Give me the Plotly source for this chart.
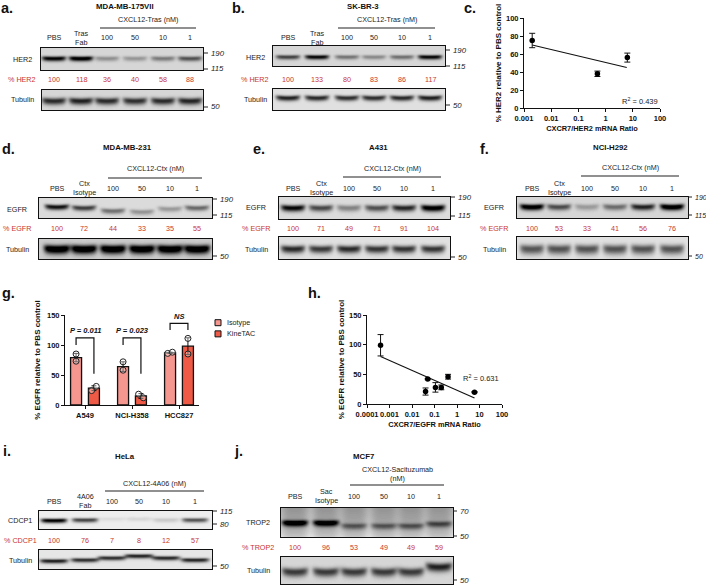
import numpy as np
import plotly.graph_objects as go

W, H = 706, 586
FONT = "Liberation Sans"
RED = "#C9352C"
INK = "#111111"

# ---------- data ----------
CONC = ["100", "50", "10", "1"]
pct_a = [100, 118, 36, 40, 58, 88]
pct_b = [100, 133, 80, 83, 86, 117]
pct_d = [100, 72, 44, 33, 35, 55]
pct_e = [100, 71, 49, 71, 91, 104]
pct_f = [100, 53, 33, 41, 56, 76]
pct_i = [100, 76, 7, 8, 12, 57]
pct_j = [100, 96, 53, 49, 49, 59]

band_a = [.85, .92, .28, .25, .36, .52]
band_b = [.58, .82, .38, .30, .40, .82]
band_d = [.80, .62, .42, .28, .26, .45]
band_e = [.85, .58, .35, .55, .72, .95]
band_f = [.95, .55, .24, .42, .72, .98]
band_i = [.95, .66, .06, .08, .14, .60]
band_j = [.88, .85, .36, .36, .38, .42]
tub_a = [.68, .72, .68, .66, .68, .70]
tub_b = [.75, .72, .70, .70, .72, .76]
tub_d = [1.0, 1.0, 1.0, 1.0, 1.0, 1.0]
tub_e = [.72, .66, .72, .68, .68, .68]
tub_f = [.55, .56, .56, .56, .56, .56]
tub_i = [.78, .72, .72, .76, .74, .76]
tub_j = [.62, .62, .62, .62, .62, .72]

c_x = [0.002, 0.5, 6.3]
c_y = [75, 38, 56]
c_err = [8, 3, 5]
c_fit_x = [0.002, 6]
c_fit_y = [70, 45]

g_cells = ["A549", "NCI-H358", "HCC827"]
g_iso = [79, 64, 87]
g_kine = [28, 15, 98]
g_iso_err = [7, 8, 1]
g_kine_err = [4, 4, 14]
g_iso_pts = [[85, 73], [72, 58], [86, 88]]
g_kine_pts = [[24, 31], [18, 12], [111, 85]]
g_p = ["P = 0.011", "P = 0.023", "NS"]
g_series = ["Isotype", "KineTAC"]
g_colors = ["#F5978F", "#EE5A45"]

h_x = [0.0004, 0.04, 0.05, 0.11, 0.2, 0.4, 6]
h_y = [99, 21, 42, 28, 28, 46, 20]
h_err = [18, 6, 1, 8, 4, 4, 1]
h_fit_x = [0.0004, 6]
h_fit_y = [80, 10]

fig = go.Figure()
annotations, shapes = [], []
axis_n = [0]


def px(x):
    return x / W


def py(y):
    return 1 - y / H


def text(x, y, s, size=7.2, color="#222222", bold=False, anchor="center", **kw):
    s2 = f"<b>{s}</b>" if bold else s
    annotations.append(dict(x=px(x), y=py(y), xref="paper", yref="paper", text=s2,
                            showarrow=False, xanchor=anchor, yanchor="middle",
                            font=dict(family=FONT, size=size, color=color), **kw))


def hline(x0, x1, y0, width=1, color="#222222"):
    shapes.append(dict(type="line", xref="paper", yref="paper", x0=px(x0), x1=px(x1),
                       y0=py(y0), y1=py(y0), line=dict(color=color, width=width)))


def new_axes(x0, x1, y0, y1):
    axis_n[0] += 1
    n = axis_n[0]
    suffix = "" if n == 1 else str(n)
    return n, suffix, [px(x0), px(x1)], [py(y1), py(y0)]


def blot(x0, x1, y0, y1, lanes, vals, yc, sy, bg=.86, w=12, curve=1.0, top_smear=0.0):
    n, suf, dx, dy = new_axes(x0, x1, y0, y1)
    xs = np.arange(x0, x1) + .5
    ys = np.arange(y0, y1) + .5
    X, Y = np.meshgrid(xs, ys)
    Z = np.full(X.shape, float(bg))
    if np.isscalar(yc):
        yc = [yc] * len(lanes)
    if top_smear:
        Z -= top_smear * np.clip((y1 - Y) / (y1 - y0), 0, 1) ** .5
        gap = np.zeros(X.shape)
        for c in lanes:
            gap += np.exp(-((X - c) / w) ** 4)
        Z += top_smear * .7 * (1 - np.clip(gap, 0, 1))
    for c, v, yy in zip(lanes, vals, yc):
        u = (X - c) / w
        prof = np.exp(-np.abs(u) ** 6)
        centre = yy - curve * u ** 2
        vert = np.where(Y < centre, np.exp(-((Y - centre) / (sy * .8)) ** 2),
                        np.exp(-((Y - centre) / (sy * 1.1)) ** 2))
        Z -= v * prof * vert
    Z = np.clip(Z, 0, 1)
    fig.add_trace(go.Heatmap(x=xs, y=ys, z=np.round(Z, 2).tolist(), coloraxis="coloraxis",
                             xaxis=f"x{suf}", yaxis=f"y{suf}", hoverinfo="skip"))
    ax = dict(showline=True, mirror=True, linecolor="#111111", linewidth=1.4, ticks="",
              showticklabels=False, showgrid=False, zeroline=False)
    fig.update_layout(**{
        f"xaxis{suf}": dict(domain=dx, range=[x0, x1], anchor=f"y{suf}", **ax),
        f"yaxis{suf}": dict(domain=dy, range=[y1, y0], anchor=f"x{suf}", **ax),
    })


def mw(x, y, s, size=7.8):
    hline(x, x + 4, y, width=1, color="#222222")
    text(x + 4.5, y, f"<i>{s}</i>", size=size, anchor="left")


def panel(label_x, lane_x, pct, pct_y, row_names, row_ys, conc_y, line_y, line_x, conc_text, conc_x,
          lane_y, head2, title, title_x, head_y=None):
    for lx, name in zip(lane_x[2:], CONC):
        text(lx, lane_y, name)
    text(lane_x[0], lane_y, "PBS")
    text(lane_x[1], lane_y - 4.5, head2[0])
    text(lane_x[1], lane_y + 4.5, head2[1])
    for i, t in enumerate(conc_text):
        text(conc_x, conc_y + i * 9, t)
    hline(line_x[0], line_x[1], line_y, width=1.1)
    for lx, v in zip(lane_x, pct):
        text(lx, pct_y, str(v), color=RED)
    text(label_x, row_ys[0], row_names[0])
    text(label_x, row_ys[1], row_names[1], color=RED)
    text(label_x, row_ys[2], row_names[2])
    text(title_x, head_y, title, size=7.8, bold=True, color="#111111")


# ---------- blots ----------
la = [54, 81, 107, 135, 163, 190]
blot(41, 203, 48, 70, la, band_a, 58.5, 2.6, bg=.84, curve=.5)
blot(42, 203, 90, 110, la, tub_a, 101, 3.6, bg=.84)
panel(22, la, pct_a, 79, ["HER2", "% HER2", "Tubulin"], [59, 79, 100], 20, 28, (100, 196),
      ["CXCL12-Tras (nM)"], 148, 38, ("Tras", "Fab"), "MDA-MB-175VII", 125, head_y=6)
mw(204, 53, "190"); mw(204, 69, "115"); mw(204, 107, "50")

lb = [288, 317, 347, 374, 402, 430]
blot(273, 445, 46, 66, lb, band_b, 57, 2.4, bg=.84, curve=.4)
blot(273, 445, 89, 110, lb, tub_b, 98, 2.8, bg=.88)
panel(255, lb, pct_b, 79, ["HER2", "% HER2", "Tubulin"], [57, 79, 100], 20, 28, (338, 435),
      ["CXCL12-Tras (nM)"], 387, 38, ("Tras", "Fab"), "SK-BR-3", 363, head_y=6)
mw(446, 50, "190"); mw(446, 66, "115"); mw(446, 105, "50")

ld = [57, 84, 113, 142, 170, 197]
blot(39, 212, 198, 218, ld, band_d, [207, 208, 211, 212, 209, 208], 2.8, bg=.86)
blot(39, 212, 239, 259, ld, tub_d, 249, 4.6, bg=.80, w=13)
panel(17, ld, pct_d, 229, ["EGFR", "% EGFR", "Tubulin"], [209, 229, 249], 169, 178, (108, 202),
      ["CXCL12-Ctx (nM)"], 155, 188, ("Ctx", "Isotype"), "MDA-MB-231", 127, head_y=147)
mw(213, 199, "190"); mw(213, 215, "115"); mw(213, 256, "50")

le = [293, 321, 349, 377, 404, 433]
blot(279, 450, 197, 219, le, band_e, 208, 3.4, bg=.86)
blot(279, 450, 237, 259, le, tub_e, 249, 4, bg=.88)
panel(256, le, pct_e, 229, ["EGFR", "% EGFR", "Tubulin"], [208, 229, 249], 168, 177, (343, 441),
      ["CXCL12-Ctx (nM)"], 392, 188, ("Ctx", "Isotype"), "A431", 378, head_y=147)
mw(451, 197, "190"); mw(451, 216, "115"); mw(451, 257, "50")

lf = [532, 559, 587, 615, 643, 672]
blot(517, 688, 197, 218, lf, band_f, 207, 3.2, bg=.84)
blot(517, 688, 237, 259, lf, tub_f, 249, 5, bg=.88)
panel(494, lf, pct_f, 229, ["EGFR", "% EGFR", "Tubulin"], [208, 229, 249], 167, 176, (581, 679),
      ["CXCL12-Ctx (nM)"], 630, 188, ("Ctx", "Isotype"), "NCI-H292", 610, head_y=147)
mw(688, 197, "190", size=7); mw(688, 215, "115", size=7); mw(688, 256, "50", size=7)

li = [54, 85, 112, 139, 166, 195]
blot(39, 212, 511, 529, li, band_i, [520.5, 520, 519, 519, 520, 520], 2.4, bg=.93, w=13, curve=.3)
blot(39, 212, 550, 569, li, tub_i, [561, 560, 558, 556, 558, 560], 2.3, bg=.90, w=14, curve=.3)
panel(20, li, pct_i, 540, ["CDCP1", "% CDCP1", "Tubulin"], [520, 540, 560], 483, 491, (105, 204),
      ["CXCL12-4A06 (nM)"], 154, 501, ("4A06", "Fab"), "HeLa", 125, head_y=456)
mw(213, 511, "115"); mw(213, 524, "80"); mw(213, 566, "50")

lj = [295, 326, 354, 384, 411, 439]
blot(281, 453, 508, 537, lj, band_j, [523, 523, 526, 526, 526, 524], 3.2, bg=.80, w=13, curve=.6, top_smear=.22)
blot(281, 453, 557, 584, lj, tub_j, [572, 572, 572, 572, 572, 567], 4.5, bg=.84, w=13, curve=1.5)
panel(258, lj, pct_j, 547, ["TROP2", "% TROP2", "Tubulin"], [522, 547, 570], 469, 485, (350, 444),
      ["CXCL12-Sacituzumab", "(nM)"], 397, 496, ("Sac", "Isotype"), "MCF7", 363, head_y=456)
mw(453, 511, "70"); mw(453, 536, "50"); mw(453, 580, "50")

# ---------- panel letters ----------
letters = [("a.", 7, 8), ("b.", 238, 8), ("c.", 470, 8), ("d.", 8, 149), ("e.", 259, 149), ("f.", 484, 149),
           ("g.", 8, 293), ("h.", 314, 293), ("i.", 7, 451), ("j.", 238, 451)]
for s, x, y in letters:
    text(x, y, s, size=14.5, bold=True, color="#111111")

# ---------- chart axes ----------
tickf = dict(family=FONT, size=7.5, color=INK, weight="bold")
ytitlef = dict(family=FONT, size=8, color=INK, weight="bold")
xtitlef = dict(family=FONT, size=7.4, color=INK, weight="bold")
decades_c = [0.001, 0.01, 0.1, 1, 10, 100]
decades_h = [0.0001, 0.001, 0.01, 0.1, 1, 10, 100]


def chart_axes(x0, x1, y0, y1, xcfg, ycfg, xtitle=None, ytitle=None, ystand=5):
    n, suf, dx, dy = new_axes(x0, x1, y0, y1)
    base = dict(showline=True, linecolor=INK, linewidth=1, ticks="outside", ticklen=3, tickwidth=1,
                tickcolor=INK, showgrid=False, zeroline=False, tickfont=tickf, automargin=False)
    xa = dict(domain=dx, anchor=f"y{suf}", tickangle=0, **base, **xcfg)
    ya = dict(domain=dy, anchor=f"x{suf}", **base, **ycfg)
    if xtitle:
        xa["title"] = dict(text=xtitle, font=xtitlef, standoff=3)
    if ytitle:
        ya["title"] = dict(text=ytitle, font=ytitlef, standoff=ystand)
    fig.update_layout(**{f"xaxis{suf}": xa, f"yaxis{suf}": ya})
    return suf


def scatter_panel(x0, x1, y0, y1, xs, ys, errs, fx, fy, decades, rng, ymax, dy, xtitle, ytitle, r2, r2_xy):
    suf = chart_axes(x0, x1, y0, y1,
                     dict(type="log", range=rng, tickmode="array", tickvals=decades,
                          ticktext=[str(d) for d in decades]),
                     dict(range=[0, ymax], dtick=dy), xtitle, ytitle, ystand=3)
    fig.add_trace(go.Scatter(x=fx, y=fy, mode="lines", line=dict(color=INK, width=1.1),
                             xaxis=f"x{suf}", yaxis=f"y{suf}", showlegend=False, hoverinfo="skip"))
    fig.add_trace(go.Scatter(x=xs, y=ys, mode="markers", marker=dict(color="black", size=5.5),
                             error_y=dict(type="data", array=errs, color=INK, thickness=1, width=3),
                             xaxis=f"x{suf}", yaxis=f"y{suf}", showlegend=False, hoverinfo="skip"))
    text(r2_xy[0], r2_xy[1], f"R<sup>2</sup> = {r2}", size=7.5, color="#222222")


scatter_panel(524, 660, 18, 108, c_x, c_y, c_err, c_fit_x, c_fit_y, decades_c, [-3, 2], 100, 20,
              "CXCR7/HER2 mRNA Ratio", "% HER2 relative to PBS control", "0.439", (640, 101))
scatter_panel(367, 502, 315, 404, h_x, h_y, h_err, h_fit_x, h_fit_y, decades_h, [-4, 2], 150, 50,
              "CXCR7/EGFR mRNA Ratio", "% EGFR relative to PBS control", "0.631", (481, 378))

# bar panel g
suf = chart_axes(65, 199, 315, 405,
                 dict(range=[-0.4255, 2.4255], tickmode="array", tickvals=[0, 1, 2], ticktext=g_cells),
                 dict(range=[0, 150], dtick=50), None, "% EGFR relative to PBS control")
idx = list(range(3))
off = 0.19
for name, vals, errs, col, pts, sign in [
    (g_series[0], g_iso, g_iso_err, g_colors[0], g_iso_pts, -1),
    (g_series[1], g_kine, g_kine_err, g_colors[1], g_kine_pts, 1),
]:
    fig.add_trace(go.Bar(x=[i + sign * off for i in idx], y=vals, width=0.234, name=name,
                         marker=dict(color=col, line=dict(color=INK, width=1.3)),
                         error_y=dict(type="data", array=errs, color=INK, thickness=1, width=2.5),
                         xaxis=f"x{suf}", yaxis=f"y{suf}", hoverinfo="skip", showlegend=False))
    for i, p in zip(idx, pts):
        jitter = [0.0, 0.0] if abs(p[0] - p[1]) > 8 else [-0.05, 0.05]
        fig.add_trace(go.Scatter(x=[i + sign * off + j for j in jitter], y=p, mode="markers",
                                 marker=dict(size=6, color="rgba(255,255,255,0.35)", line=dict(color="#222222", width=1)),
                                 xaxis=f"x{suf}", yaxis=f"y{suf}", showlegend=False, hoverinfo="skip"))

bracket_tops = [112, 112, 136]
bracket_left = [100, 100, 125]
bracket_right = [52, 52, 125]
for i, (top, l, r, lab) in enumerate(zip(bracket_tops, bracket_left, bracket_right, g_p)):
    fig.add_trace(go.Scatter(x=[i - off, i - off, i + off, i + off], y=[l, top, top, r], mode="lines",
                             line=dict(color=INK, width=1.2), xaxis=f"x{suf}", yaxis=f"y{suf}",
                             showlegend=False, hoverinfo="skip"))
    annotations.append(dict(x=i, y=top + 12, xref=f"x{suf}", yref=f"y{suf}", text=f"<b><i>{lab}</i></b>",
                            showarrow=False, font=dict(family=FONT, size=7.5, color=INK)))

# legend key of panel g, on its own hidden axes
_, lsuf, ldx, ldy = new_axes(212, 270, 316, 340)
for k, (name, col) in enumerate(zip(g_series, g_colors)):
    fig.add_trace(go.Scatter(x=[0], y=[k], mode="markers",
                             marker=dict(symbol="square", size=6, color=col, line=dict(color=INK, width=1)),
                             xaxis=f"x{lsuf}", yaxis=f"y{lsuf}", showlegend=False, hoverinfo="skip"))
    fig.add_trace(go.Scatter(x=[9], y=[k], mode="text", text=[name], textposition="middle right",
                             textfont=dict(family=FONT, size=7.2, color="#222222"),
                             xaxis=f"x{lsuf}", yaxis=f"y{lsuf}", showlegend=False, hoverinfo="skip"))
fig.update_layout(**{
    f"xaxis{lsuf}": dict(domain=ldx, range=[-6, 52], visible=False, anchor=f"y{lsuf}"),
    f"yaxis{lsuf}": dict(domain=ldy, range=[1.55, -0.6], visible=False, anchor=f"x{lsuf}"),
})

fig.update_layout(
    width=W, height=H, margin=dict(l=0, r=0, t=0, b=0),
    paper_bgcolor="white", plot_bgcolor="white",
    coloraxis=dict(colorscale=[[0, "#000000"], [1, "#ffffff"]], cmin=0, cmax=1, showscale=False),
    barmode="overlay",
    showlegend=False,
    annotations=annotations, shapes=shapes,
)
fig.write_html("out.html", config=dict(displayModeBar=False),
               post_script="document.body.style.margin='0';document.body.style.overflow='hidden';window.dispatchEvent(new Event('resize'));")
